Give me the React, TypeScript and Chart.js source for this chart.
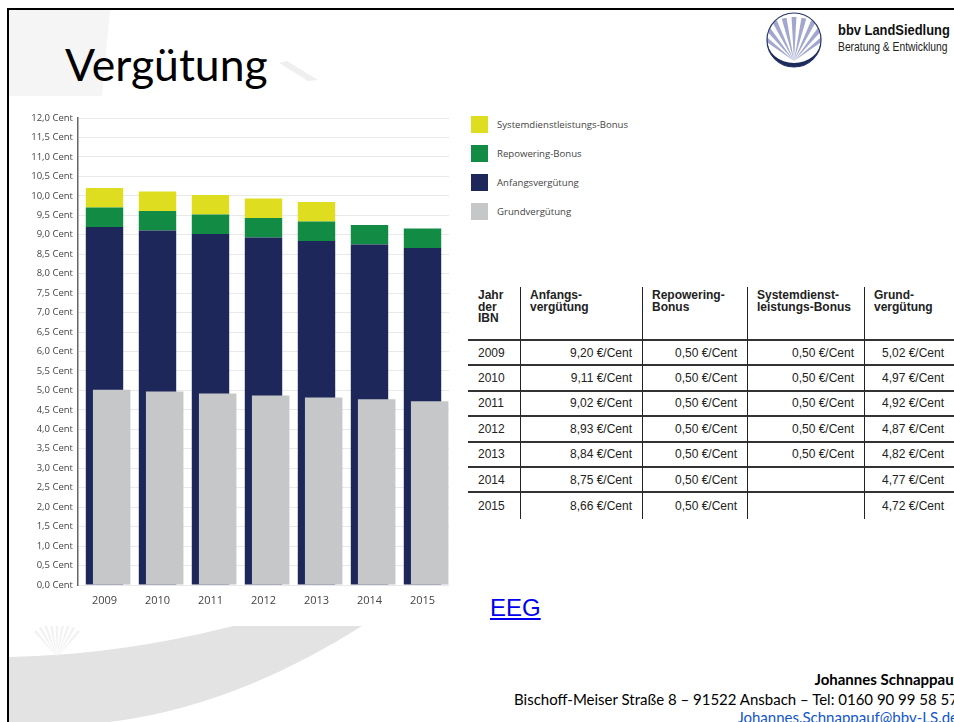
import React, { useEffect, useRef } from "react";
import { Chart, registerables } from "chart.js";

Chart.register(...registerables);

// ---- data ----
const years = ["2009", "2010", "2011", "2012", "2013", "2014", "2015"];
const anfangsverguetung = [9.2, 9.11, 9.02, 8.93, 8.84, 8.75, 8.66];
const repoweringBonus = [0.5, 0.5, 0.5, 0.5, 0.5, 0.5, 0.5];
const systemdienstBonus: (number | null)[] = [0.5, 0.5, 0.5, 0.5, 0.5, null, null];
const grundverguetung = [5.02, 4.97, 4.92, 4.87, 4.82, 4.77, 4.72];

const nameSdl = "Systemdienstleistungs-Bonus";
const nameRep = "Repowering-Bonus";
const nameAnf = "Anfangsvergütung";
const nameGrund = "Grundvergütung";

const yMin = 0;
const yMax = 12;
const yStep = 0.5;

const tableHeaders = [
  "Jahr\nder\nIBN",
  "Anfangs-\nvergütung",
  "Repowering-\nBonus",
  "Systemdienst-\nleistungs-Bonus",
  "Grund-\nvergütung",
];

// ---- styles ----
const cYellow = "#dedd1f";
const cGreen = "#128b45";
const cNavy = "#1e275a";
const cGrey = "#c6c7c9";

const legendItems = [
  { name: nameSdl, color: cYellow },
  { name: nameRep, color: cGreen },
  { name: nameAnf, color: cNavy },
  { name: nameGrund, color: cGrey },
];

const fmtCell = (v: number | null) =>
  v == null ? "" : v.toFixed(2).replace(".", ",") + " €/Cent";

function BarChart() {
  const ref = useRef<HTMLCanvasElement | null>(null);
  useEffect(() => {
    if (!ref.current) return;
    const mainBar = { grouped: false, order: 2, stack: "main", categoryPercentage: 0.706, barPercentage: 1, borderWidth: 0 };
    const chart = new Chart(ref.current, {
      type: "bar",
      data: {
        labels: years,
        datasets: [
          {
            label: "",
            data: years.map(() => null),
            stack: "spacer",
            grouped: true,
            order: 0,
            backgroundColor: "rgba(0,0,0,0)",
            categoryPercentage: 0.542,
            barPercentage: 2.61,
          } as any,
          {
            label: nameGrund,
            data: grundverguetung,
            stack: "grund",
            grouped: true,
            order: 1,
            backgroundColor: cGrey,
            categoryPercentage: 0.542,
            barPercentage: 2.61,
            borderWidth: 0,
          } as any,
          { label: nameAnf, data: anfangsverguetung, backgroundColor: cNavy, ...mainBar } as any,
          { label: nameRep, data: repoweringBonus, backgroundColor: cGreen, ...mainBar } as any,
          { label: nameSdl, data: systemdienstBonus, backgroundColor: cYellow, ...mainBar } as any,
        ],
      },
      options: {
        animation: false,
        responsive: true,
        maintainAspectRatio: false,
        layout: { padding: { top: 18, right: 11, bottom: 5, left: 0 } },
        plugins: {
          legend: { display: false },
          tooltip: { enabled: false },
          title: { display: false },
        },
        scales: {
          x: {
            stacked: true,
            grid: { display: false, drawTicks: false },
            border: { display: false },
            ticks: {
              color: "#444",
              padding: 9,
              font: { family: "'Open Sans'", size: 11 },
              maxRotation: 0,
            },
            afterFit: (axis: any) => {
              axis.height = 30;
            },
          },
          y: {
            stacked: true,
            min: yMin,
            max: yMax,
            grid: { color: "#e9e9e9", lineWidth: 1, drawTicks: false },
            border: { display: true, color: "#666", width: 1.5 },
            ticks: {
              stepSize: yStep,
              autoSkip: false,
              padding: 5,
              color: "#444",
              font: { family: "'Open Sans'", size: 9.5 },
              callback: (v: any) => Number(v).toFixed(1).replace(".", ",") + " Cent",
            },
            afterFit: (axis: any) => {
              axis.width = 48;
            },
          },
        },
      } as any,
    });
    return () => chart.destroy();
  }, []);
  return <canvas ref={ref} />;
}

function Logo() {
  const rays = [] as React.ReactNode[];
  const cx = 32, by = 52;
  for (let a = -52; a <= 52; a += 13) {
    const r = 44;
    const a1 = ((a - 3.2) * Math.PI) / 180;
    const a2 = ((a + 3.2) * Math.PI) / 180;
    const p = `${cx},${by} ${cx + r * Math.sin(a1)},${by - r * Math.cos(a1)} ${cx + r * Math.sin(a2)},${by - r * Math.cos(a2)}`;
    rays.push(<polygon key={a} points={p} fill="#a3a7cf" />);
  }
  return (
    <svg width="66" height="64" style={{ position: "absolute", left: 762, top: 9 }}>
      <defs>
        <clipPath id="logoClip">
          <circle cx="32" cy="31" r="27" />
        </clipPath>
      </defs>
      <g clipPath="url(#logoClip)">{rays}</g>
      <circle cx="32" cy="31" r="27" fill="none" stroke="#2a3568" strokeWidth="1.2" />
      <path d="M 5,31 A 27 27 0 0 0 59,31 A 27 23 0 0 1 5,31 Z" fill="#1d2a5c" />
    </svg>
  );
}

function Decorations() {
  const fanRays = [] as React.ReactNode[];
  for (let a = -40; a <= 40; a += 10) {
    const r = 34;
    const a1 = ((a - 2.5) * Math.PI) / 180;
    const a2 = ((a + 2.5) * Math.PI) / 180;
    const bx = 57, by = 657;
    fanRays.push(
      <polygon
        key={a}
        points={`${bx},${by} ${bx + r * Math.sin(a1)},${by - r * Math.cos(a1)} ${bx + r * Math.sin(a2)},${by - r * Math.cos(a2)}`}
        fill="#f2f2f2"
      />
    );
  }
  return (
    <svg width="954" height="722" style={{ position: "absolute", left: 0, top: 0 }}>
      <defs>
        <clipPath id="fanClip">
          <rect x="0" y="626" width="954" height="96" />
        </clipPath>
      </defs>
      <polygon points="9,10 110,10 102,96 9,96" fill="#f5f5f5" />
      <polygon points="279,63 287,61 318,80 308,81" fill="#efefef" />
      <path d="M 9,657 Q 120,655 233,626 L 362,626 Q 236,706 110,722 L 9,722 Z" fill="#e3e3e3" />
      <g clipPath="url(#fanClip)">{fanRays}</g>
    </svg>
  );
}

const narrow = {
  fontFamily: "'Liberation Sans', Arial, sans-serif",
  transform: "scaleX(0.86)",
  transformOrigin: "0 0",
  whiteSpace: "nowrap" as const,
  position: "absolute" as const,
};

export default function App() {
  const colW = [52, 122, 105, 117, 90];
  return (
    <div
      style={{
        position: "fixed",
        left: 0,
        top: 0,
        width: 954,
        height: 722,
        overflow: "hidden",
        background: "#fff",
        fontFamily: "'Liberation Sans', Arial, sans-serif",
      }}
    >
      <Decorations />
      <div
        style={{
          position: "absolute",
          left: 7,
          top: 8,
          width: 960,
          height: 730,
          borderTop: "2px solid #000",
          borderLeft: "2px solid #000",
          boxSizing: "border-box",
        }}
      />
      <div
        style={{
          position: "absolute",
          left: 65,
          top: 42,
          fontFamily: "Lato, sans-serif",
          fontSize: 44.5,
          lineHeight: "44.5px",
          color: "#000",
          whiteSpace: "nowrap",
        }}
      >
        Vergütung
      </div>

      <Logo />
      <div style={{ ...narrow, left: 838, top: 21, fontWeight: 700, fontSize: 15, lineHeight: "17px", color: "#111" }}>
        bbv LandSiedlung
      </div>
      <div style={{ ...narrow, left: 838, top: 40, fontSize: 12, lineHeight: "14px", color: "#222" }}>
        Beratung &amp; Entwicklung
      </div>

      <div style={{ position: "absolute", left: 30, top: 100, width: 430, height: 520 }}>
        <BarChart />
      </div>

      {/* legend */}
      <div style={{ position: "absolute", left: 471, top: 116 }}>
        {legendItems.map((it, i) => (
          <div
            key={it.name}
            style={{ position: "absolute", left: 0, top: i * 29, height: 17, display: "flex", alignItems: "center", whiteSpace: "nowrap" }}
          >
            <div style={{ width: 17, height: 17, background: it.color }} />
            <div
              style={{
                marginLeft: 9,
                fontFamily: "'Open Sans', sans-serif",
                fontSize: 9.6,
                color: "#444",
              }}
            >
              {it.name}
            </div>
          </div>
        ))}
      </div>

      {/* table */}
      <table
        style={{
          position: "absolute",
          left: 468,
          top: 287,
          width: 486,
          tableLayout: "fixed",
          borderCollapse: "separate",
          borderSpacing: 0,
          fontFamily: "'Liberation Sans', Arial, sans-serif",
          fontSize: 12,
          color: "#222",
        }}
      >
        <colgroup>
          {colW.map((w, i) => (
            <col key={i} style={{ width: w }} />
          ))}
        </colgroup>
        <thead>
          <tr style={{ height: 54 }}>
            {tableHeaders.map((h, i) => (
              <th
                key={i}
                style={{
                  whiteSpace: "pre-line",
                  textAlign: "left",
                  verticalAlign: "top",
                  fontWeight: 700,
                  lineHeight: "11.7px",
                  padding: i === 0 ? "3px 0 0 10px" : "3px 0 0 9px",
                  borderLeft: i > 0 ? "1px solid #222" : "none",
                  borderBottom: "2px solid #333",
                  boxSizing: "border-box",
                }}
              >
                {h}
              </th>
            ))}
          </tr>
        </thead>
        <tbody>
          {years.map((y, r) => {
            const cells = [
              y,
              fmtCell(anfangsverguetung[r]),
              fmtCell(repoweringBonus[r]),
              fmtCell(systemdienstBonus[r]),
              fmtCell(grundverguetung[r]),
            ];
            const last = r === years.length - 1;
            return (
              <tr key={y} style={{ height: last ? 26 : 25.4 }}>
                {cells.map((c, i) => (
                  <td
                    key={i}
                    style={{
                      textAlign: i === 0 ? "left" : "right",
                      padding: i === 0 ? "0 0 0 10px" : "0 10px 0 0",
                      borderLeft: i > 0 ? "1px solid #222" : "none",
                      borderBottom: last ? "none" : "2px solid #333",
                      whiteSpace: "nowrap",
                      lineHeight: "14px",
                      boxSizing: "border-box",
                    }}
                  >
                    {c}
                  </td>
                ))}
              </tr>
            );
          })}
        </tbody>
      </table>

      <a
        href="#"
        style={{
          position: "absolute",
          left: 490,
          top: 596,
          fontFamily: "'Liberation Sans', Arial, sans-serif",
          fontSize: 24,
          lineHeight: "24px",
          color: "#0000ee",
          textDecoration: "underline",
        }}
      >
        EEG
      </a>

      <div
        style={{
          position: "absolute",
          right: -5,
          top: 670,
          fontFamily: "Lato, sans-serif",
          fontWeight: 700,
          fontSize: 15,
          lineHeight: "18px",
          color: "#000",
          whiteSpace: "nowrap",
          textAlign: "right",
        }}
      >
        Johannes Schnappauf
      </div>
      <div
        style={{
          position: "absolute",
          right: -4,
          top: 690,
          fontFamily: "Lato, sans-serif",
          fontSize: 15,
          lineHeight: "18px",
          color: "#000",
          whiteSpace: "nowrap",
          textAlign: "right",
        }}
      >
        Bischoff-Meiser Straße 8 – 91522 Ansbach – Tel: 0160 90 99 58 57
      </div>
      <div
        style={{
          position: "absolute",
          right: -4,
          top: 708,
          fontFamily: "Lato, sans-serif",
          fontSize: 15,
          lineHeight: "18px",
          color: "#1155cc",
          textDecoration: "underline",
          whiteSpace: "nowrap",
        }}
      >
        Johannes.Schnappauf@bbv-LS.de
      </div>
    </div>
  );
}
